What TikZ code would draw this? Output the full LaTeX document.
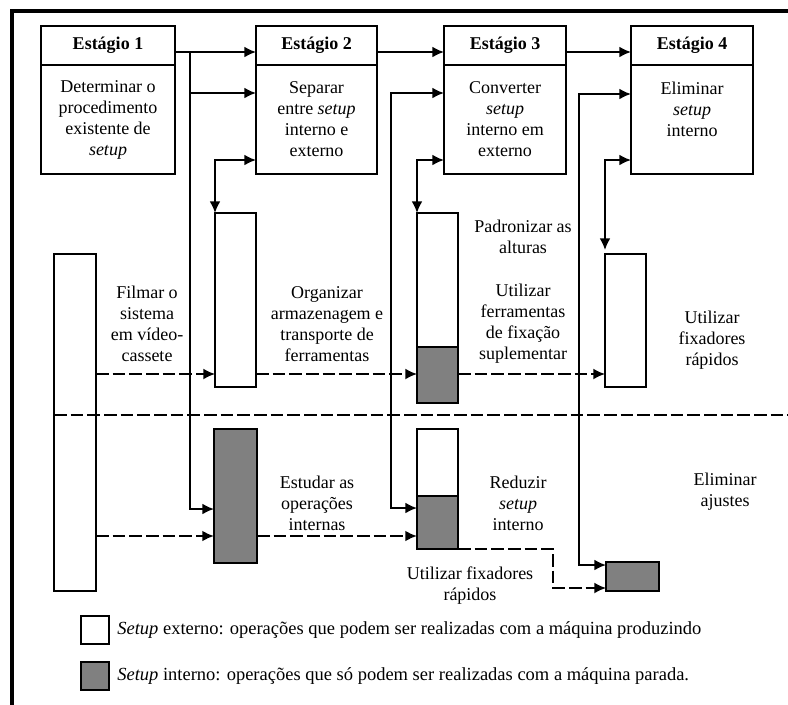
\documentclass[tikz,border=0pt]{standalone}
\usepackage{fontspec}
\setmainfont{Liberation Serif}
\usetikzlibrary{arrows.meta, positioning}

\begin{document}
\begin{tikzpicture}[
	x=0.6pt, y=-0.6pt,
	font=\fontsize{10.8}{12.6}\selectfont,
	stagehead/.style={rectangle, draw=black, line width=1.5pt, fill=white, align=center,
	                  minimum width=73.2pt, minimum height=23.4pt, inner sep=0pt, outer sep=0pt,
	                  font=\fontsize{10.8}{12.6}\selectfont\bfseries},
	stagebody/.style={rectangle, draw=black, line width=1.5pt, fill=white, align=center,
	                  minimum width=73.2pt, minimum height=65.4pt, inner sep=0pt, outer sep=0pt},
	colbar/.style={rectangle, draw=black, line width=1.5pt, fill=white,
	               minimum width=24.6pt, inner sep=0pt, outer sep=0pt},
	colbarg/.style={colbar, fill=black!50},
	lbl/.style={align=center, inner sep=0pt},
	arr/.style={-{Latex[length=7pt,width=6.5pt]}, draw=black, line width=1.1pt},
	dbl/.style={{Latex[length=7pt,width=6.5pt]}-{Latex[length=7pt,width=6.5pt]}, draw=black, line width=1.1pt},
	dsh/.style={arr, line width=0.9pt, dash pattern=on 7.5pt off 2.5pt},
	sepline/.style={draw=black, line width=0.9pt, dash pattern=on 7.5pt off 2.5pt}
	]
\useasboundingbox (0,0) rectangle (788,704);
\draw[line width=2pt] (12,706) -- (12,11) -- (790,11);

% Quatro estágios
\node[stagehead, minimum width=80.4pt] (s1h) at (108,45.5) {Estágio 1};
\node[stagebody, minimum width=80.4pt, below=0pt of s1h] (s1b)
	{Determinar o\\procedimento\\existente de\\\textit{setup}};
\node[stagehead, minimum width=72.6pt] (s2h) at (316.5,45.5) {Estágio 2};
\node[stagebody, minimum width=72.6pt, below=0pt of s2h] (s2b)
	{Separar\\entre \textit{setup}\\interno e\\externo};
\node[stagehead] (s3h) at (505,45.5) {Estágio 3};
\node[stagebody, below=0pt of s3h] (s3b)
	{Converter\\\textit{setup}\\interno em\\externo};
\node[stagehead] (s4h) at (692,45.5) {Estágio 4};
\node[stagebody, below=0pt of s4h] (s4b)
	{Eliminar\\\textit{setup}\\interno\\~};

% Barras das operacoes
\node[colbar, minimum width=25.2pt, minimum height=202.2pt] (film) at (75,422.5) {};
\node[colbar, minimum height=104.4pt] (org) at (235.5,300) {};
\node[colbar, minimum height=80.4pt] (pad) at (437.5,280) {};
\node[colbarg, minimum height=33.6pt, below=0pt of pad] (padg) {};
\node[colbar, minimum height=79.8pt] (fix) at (625.5,320.5) {};
\node[colbarg, minimum width=25.8pt, minimum height=80.4pt] (est) at (235.5,496) {};
\node[colbar, minimum height=40.2pt] (red) at (437.5,462.5) {};
\node[colbarg, minimum height=31.8pt, below=0pt of red] (redg) {};
\node[colbarg, minimum width=31.8pt, minimum height=17.4pt] (aju) at (632.5,576.5) {};

% Textos
\node[lbl] (t1) at (147,324) {Filmar o\\sistema\\em vídeo-\\cassete};
\node[lbl] (t2) at (327,324) {Organizar\\armazenagem e\\transporte de\\ferramentas};
\node[lbl] (t3) at (523,237) {Padronizar as\\alturas};
\node[lbl] (t4) at (523,324) {Utilizar\\ferramentas\\de fixação\\suplementar};
\node[lbl] (t5) at (712,340) {Utilizar\\fixadores\\rápidos};
\node[lbl] (t6) at (317,503) {Estudar as\\operações\\internas};
\node[lbl] (t7) at (518,503) {Reduzir\\\textit{setup}\\interno};
\node[lbl] (t8) at (725,492) {Eliminar\\ajustes};
\node[lbl] (t9) at (470,586) {Utilizar fixadores\\rápidos};

% Ligacoes entre estagios
\coordinate (bus1) at (190,52);
\coordinate (bus2) at (391,93);
\coordinate (bus3) at (579,94);
\draw[arr] (s1h.east |- bus1) -- (s2h.west |- bus1);
\draw[arr] (s2h.east |- bus1) -- (s3h.west |- bus1);
\draw[arr] (s3h.east |- bus1) -- (s4h.west |- bus1);
\draw[arr] (bus1) |- (est.west |- 0,509);
\draw[arr] (bus1 |- bus2) -- (s2b.west |- bus2);
\draw[dbl] (s3b.west |- bus2) -- (bus2) |- (redg.west |- 0,508);
\draw[dbl] (s4b.west |- bus3) -- (bus3) |- (aju.west |- 0,565);
\draw[dbl] (org.north west) |- (s2b.west |- 0,160);
\draw[dbl] (pad.north west) |- (s3b.west |- 0,160);
\draw[dbl] ([yshift=2.4pt]fix.north west) |- (s4b.west |- 0,160);

% Fluxo tracejado
\draw[dsh] (film.east |- 0,374) -- (org.west |- 0,374);
\draw[dsh] (org.east |- 0,374) -- (padg.west |- 0,374);
\draw[dsh] (padg.east |- 0,374) -- (fix.west |- 0,374);
\draw[dsh, line width=1.3pt] (film.east |- 0,536) -- (est.west |- 0,536);
\draw[dsh, line width=1.3pt] (est.east |- 0,536) -- (redg.west |- 0,536);
\draw[dsh] (redg.south east) -- ++(95,0) |- (aju.west |- 0,588);
\draw[sepline] (film.west |- 0,415) -- (788,415);

% Legenda
\node[colbar, minimum width=16.8pt, minimum height=16.8pt] (lw) at (95,630) {};
\node[colbarg, minimum width=16.8pt, minimum height=16.8pt] (lg) at (95,676) {};
\node[lbl, anchor=west, right=4.8pt of lw, font=\fontsize{11.1}{13}\selectfont] (lwt)
	{\textit{Setup} externo: operações que podem ser realizadas com a máquina produzindo};
\node[lbl, anchor=west, right=4.8pt of lg, font=\fontsize{11.1}{13}\selectfont] (lgt)
	{\textit{Setup} interno: operações que só podem ser realizadas com a máquina parada.};

\end{tikzpicture}
\end{document}
